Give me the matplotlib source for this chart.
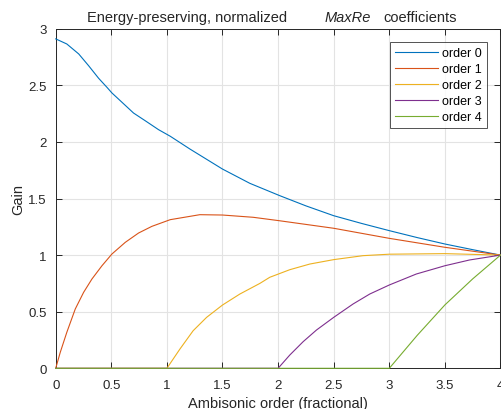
import numpy as np
import matplotlib
matplotlib.use("Agg")
import matplotlib.pyplot as plt

plt.rcParams['font.family'] = ['Liberation Sans', 'DejaVu Sans']

# values
x0 = [0, 0.1, 0.207, 0.296, 0.386, 0.461, 0.506, 0.596, 0.70, 0.805, 0.925, 1.03,
      1.207, 1.5, 1.746, 2.015, 2.25, 2.5, 2.75, 3.0, 3.25, 3.5, 3.75, 4.0]
y0 = [2.91, 2.865, 2.777, 2.673, 2.562, 2.482, 2.432, 2.35, 2.255, 2.187, 2.108, 2.05,
      1.937, 1.76, 1.634, 1.525, 1.435, 1.348, 1.28, 1.216, 1.155, 1.098, 1.048, 1.0]

x1 = [0, 0.041, 0.1, 0.176, 0.251, 0.326, 0.416, 0.506, 0.626, 0.745, 0.865, 1.03,
      1.296, 1.5, 1.776, 2.009, 2.5, 3.0, 3.5, 4.0]
y1 = [0, 0.141, 0.318, 0.524, 0.671, 0.789, 0.906, 1.01, 1.113, 1.195, 1.254, 1.313,
      1.357, 1.354, 1.334, 1.304, 1.237, 1.148, 1.069, 1.0]

x2 = [0, 1.0, 1.117, 1.236, 1.357, 1.5, 1.656, 1.836, 1.925, 2.105, 2.285, 2.5, 2.764,
      3.0, 3.5, 4.0]
y2 = [0, 0, 0.17, 0.332, 0.45, 0.559, 0.656, 0.75, 0.804, 0.871, 0.921, 0.96, 0.995,
      1.008, 1.013, 1.0]

x3 = [0, 2.0, 2.105, 2.225, 2.345, 2.5, 2.674, 2.824, 3.0, 3.243, 3.5, 3.722, 4.0]
y3 = [0, 0, 0.117, 0.235, 0.338, 0.45, 0.568, 0.656, 0.736, 0.833, 0.906, 0.957, 1.0]

x4 = [0, 3.0, 3.25, 3.5, 3.75, 4.0]
y4 = [0, 0, 0.29, 0.56, 0.79, 1.0]

series = [(x0, y0), (x1, y1), (x2, y2), (x3, y3), (x4, y4)]
labels = ['order 0', 'order 1', 'order 2', 'order 3', 'order 4']
colors = ['#0072BD', '#D95319', '#EDB120', '#7E2F8E', '#77AC30']

W, H = 502, 410
fig = plt.figure(figsize=(W / 100, H / 100), dpi=100)
L, R, T, B = 55.7, 500.5, 29.7, 369.3
ax = fig.add_axes([L / W, 1 - B / H, (R - L) / W, (B - T) / H])

for (xs, ys), lab, c in zip(series, labels, colors):
    ax.plot(xs, ys, color=c, lw=0.8, label=lab, clip_on=False, zorder=3)

ax.set_xlim(0, 4)
ax.set_ylim(0, 3)
ax.set_xticks(np.arange(0, 4.01, 0.5))
ax.set_yticks(np.arange(0, 3.01, 0.5))
ax.set_xticklabels(['0', '0.5', '1', '1.5', '2', '2.5', '3', '3.5', '4'])
ax.set_yticklabels(['0', '0.5', '1', '1.5', '2', '2.5', '3'])
ax.grid(True, color='#e3e3e3', lw=0.8)
ax.set_axisbelow(True)
ax.tick_params(direction='in', length=4, width=0.7, colors='#262626',
               labelsize=9.5, top=True, right=True)
ax.tick_params(axis='x', pad=7.5)
ax.tick_params(axis='y', pad=6.5)
for s in ax.spines.values():
    s.set_color('#262626')
    s.set_linewidth(0.7)
    s.set_zorder(2)

ax.set_xlabel('Ambisonic order (fractional)', fontsize=10.5, color='#262626', labelpad=4)
ax.set_ylabel('Gain', fontsize=10.5, color='#262626', labelpad=2)

# title in three pieces, MaxRe in italics
ty = 1 - 22 / H
fig.text(87 / W, ty, 'Energy-preserving, normalized', fontsize=10.5, color='#262626', va='baseline')
fig.text(325 / W, ty, 'MaxRe', fontsize=10.5, color='#262626', style='italic', va='baseline')
fig.text(383 / W, ty, 'coefficients', fontsize=10.5, color='#262626', va='baseline')

leg = ax.legend(loc='upper right', bbox_to_anchor=((487 - L) / (R - L), 1 - (43 - T) / (B - T)),
                fontsize=9, frameon=True, fancybox=False, handlelength=3.5,
                handletextpad=0.3, labelspacing=0.32, borderpad=0.4, borderaxespad=0)
leg.get_frame().set_edgecolor('#262626')
leg.get_frame().set_linewidth(0.7)
leg.set_zorder(5)

fig.savefig('out.png', dpi=100)
